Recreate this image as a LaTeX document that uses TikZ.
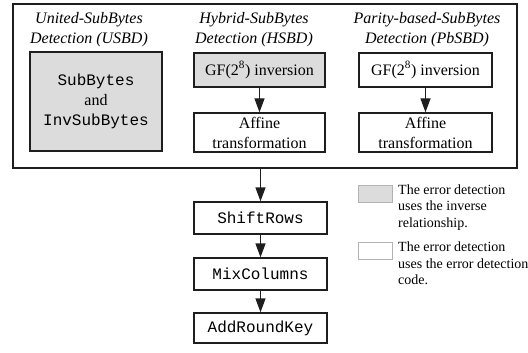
\documentclass[tikz,border=0pt]{standalone}
\usepackage{fontspec}
\setmainfont{Liberation Serif}
\setmonofont{Liberation Mono}
\usetikzlibrary{arrows.meta}
\definecolor{boxgray}{HTML}{DCDCDC}
\definecolor{inkline}{HTML}{1E1E1E}
\tikzset{
  blk/.style={draw=inkline, line width=1.4pt, rectangle, inner sep=0pt,
    align=center, font=\fontsize{16}{20}\selectfont},
  grayblk/.style={blk, fill=boxgray},
  codetxt/.style={font=\fontsize{16}{20}\selectfont\ttfamily},
  title/.style={align=center, inner sep=0pt, font=\fontsize{16}{20}\selectfont\itshape},
  flow/.style={draw=inkline, line width=1.4pt, -{Triangle[length=14pt 0,width=10pt 0]}},
  swatch/.style={draw=black!30, line width=0.8pt, minimum width=34pt, minimum height=17pt, inner sep=0pt},
  legendtxt/.style={align=left, inner sep=0pt, anchor=north west,
    font=\fontsize{14}{16.5}\selectfont}
}
\begin{document}
\begin{tikzpicture}[x=1pt, y=-1pt]
\useasboundingbox (0,0) rectangle (528,353);

% enclosing frame of the three SubBytes variants
\node[draw=inkline, line width=1.6pt, minimum width=504pt, minimum height=164pt, inner sep=0pt]
  (frame) at (265,86) {};

% column titles
\node[title] (tU) at (89,30) {United-SubBytes\\Detection (USBD)};
\node[title] (tH) at (254,30) {Hybrid-SubBytes\\Detection (HSBD)};
\node[title] (tP) at (427,30) {Parity-based-SubBytes\\Detection (PbSBD)};

% USBD
\node[grayblk, minimum width=132pt, minimum height=99pt] (usbd) at (96,101.5)
  {\texttt{SubBytes}\\and\\\texttt{InvSubBytes}};

% HSBD
\node[grayblk, minimum width=131pt, minimum height=34pt] (hinv) at (259.5,70)
  {GF(2\textsuperscript{8}) inversion};
\node[blk, minimum width=131pt, minimum height=39pt] (haff) at (259.5,132.5)
  {Affine\\transformation};

% PbSBD
\node[blk, minimum width=133pt, minimum height=34pt] (pinv) at (425.5,70)
  {GF(2\textsuperscript{8}) inversion};
\node[blk, minimum width=133pt, minimum height=39pt] (paff) at (425.5,132.5)
  {Affine\\transformation};

\draw[flow] (hinv) -- (haff);
\draw[flow] (pinv) -- (paff);

% remaining round operations
\node[blk, codetxt, minimum width=133pt, minimum height=32pt] (shift) at (260.5,218) {ShiftRows};
\node[blk, codetxt, minimum width=133pt, minimum height=32pt] (mix) at (260.5,274) {MixColumns};
\node[blk, codetxt, minimum width=133pt, minimum height=30pt] (ark) at (260.5,328) {AddRoundKey};

\coordinate (fout) at (shift.north |- frame.south);
\draw[flow] (fout) -- (shift.north);
\draw[flow] (shift) -- (mix);
\draw[flow] (mix) -- (ark);

% legend
\node[swatch, fill=boxgray] (sw1) at (375,193.5) {};
\node[legendtxt] (lg1) at (398,184.5) {The error detection\\uses the inverse\\relationship.};
\node[swatch, fill=white] (sw2) at (375,251) {};
\node[legendtxt] (lg2) at (398,242) {The error detection\\uses the error detection\\code.};
\end{tikzpicture}
\end{document}
